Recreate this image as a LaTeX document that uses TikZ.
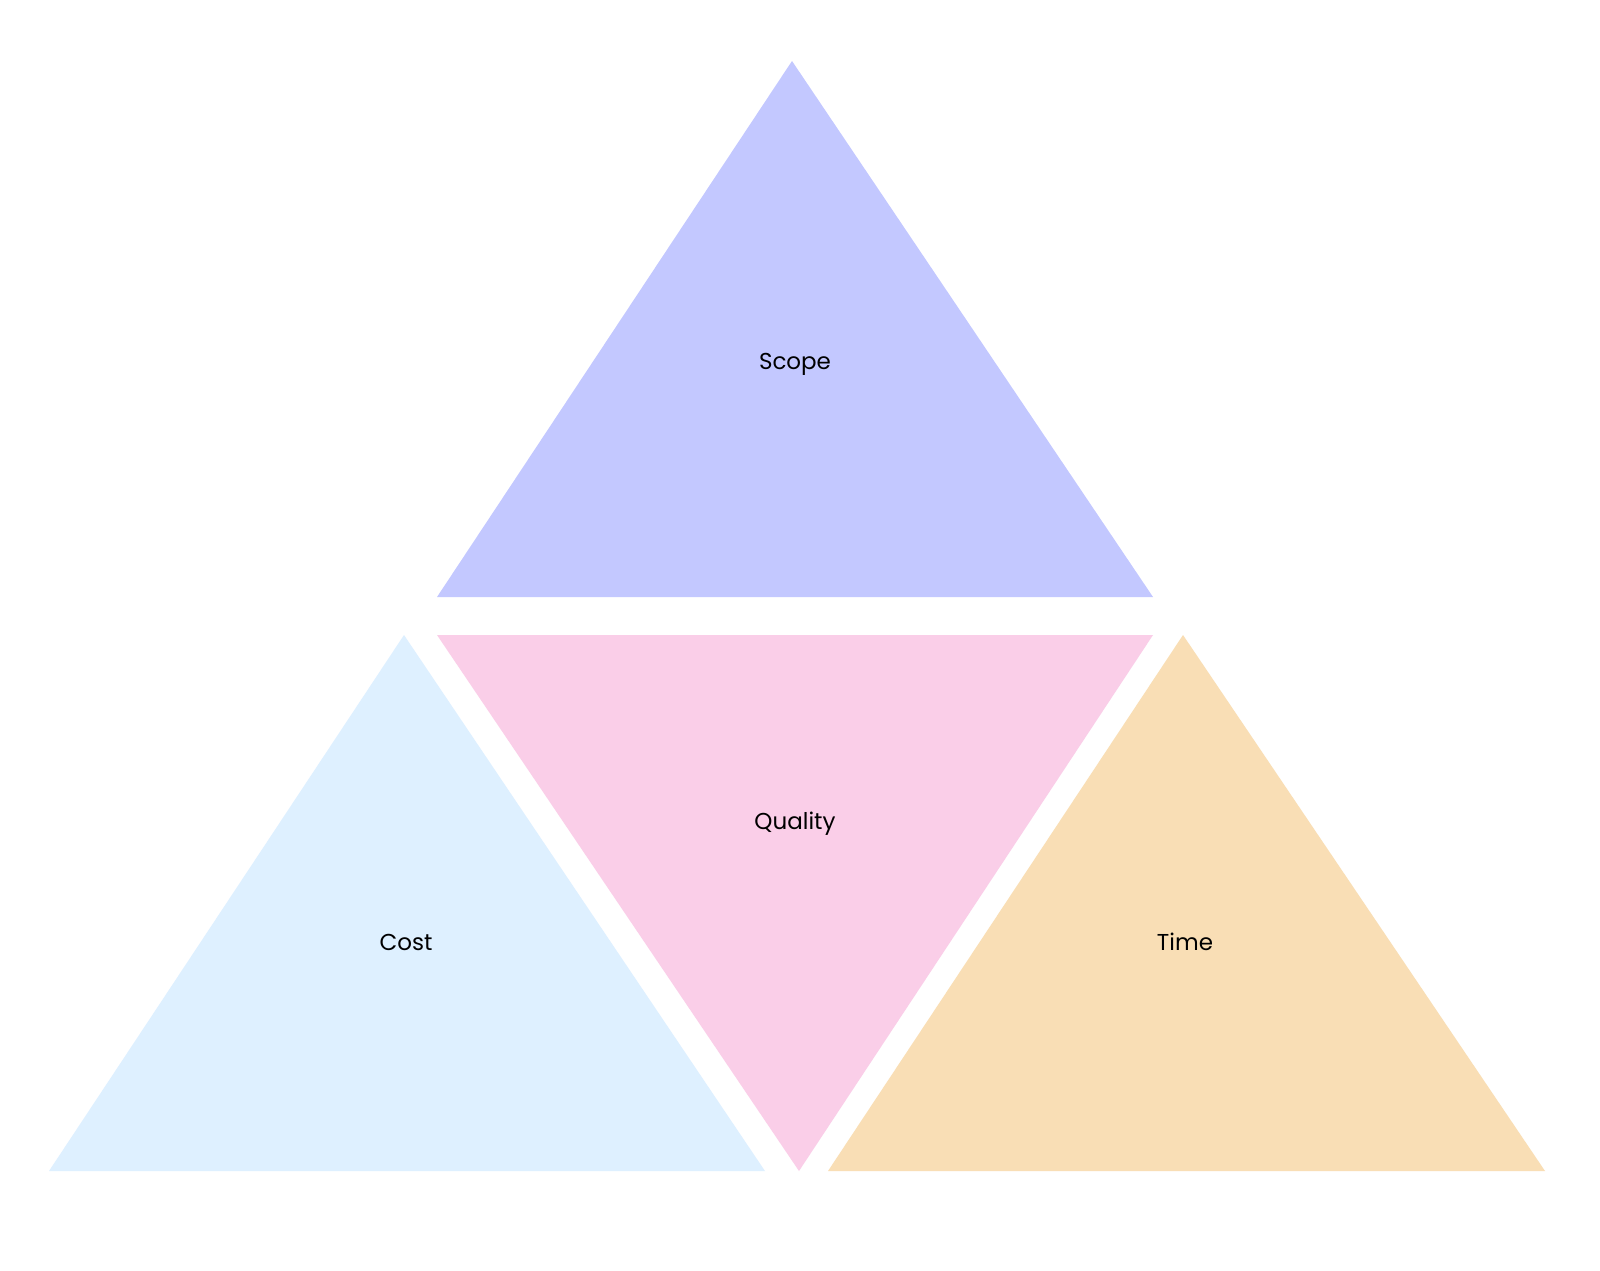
\documentclass[tikz,border=0pt]{standalone}
\usepackage{fontspec}
\setmainfont{Poppins}
\definecolor{scopec}{RGB}{195,200,255}
\definecolor{qualc}{RGB}{250,206,232}
\definecolor{costc}{RGB}{222,240,255}
\definecolor{timec}{RGB}{249,222,181}
\tikzset{lbl/.style={font=\fontsize{23}{27}\selectfont, text=black, inner sep=0pt}}
\begin{document}
\begin{tikzpicture}[x=1pt,y=-1pt]
\useasboundingbox[fill=white] (0,0) rectangle (1600,1270);
\fill[scopec] (792,61) -- (1153,597) -- (437,597) -- cycle;
\fill[qualc] (437,635) -- (1153,635) -- (799,1171) -- cycle;
\fill[costc] (404,635) -- (765,1171) -- (49,1171) -- cycle;
\fill[timec] (1183,635) -- (1545,1171) -- (828,1171) -- cycle;
\node[lbl] (scope) at (795,364) {Scope};
\node[lbl] (quality) at (795,824) {Quality};
\node[lbl] (cost) at (406,942) {Cost};
\node[lbl] (time) at (1185,942) {Time};
\end{tikzpicture}
\end{document}
